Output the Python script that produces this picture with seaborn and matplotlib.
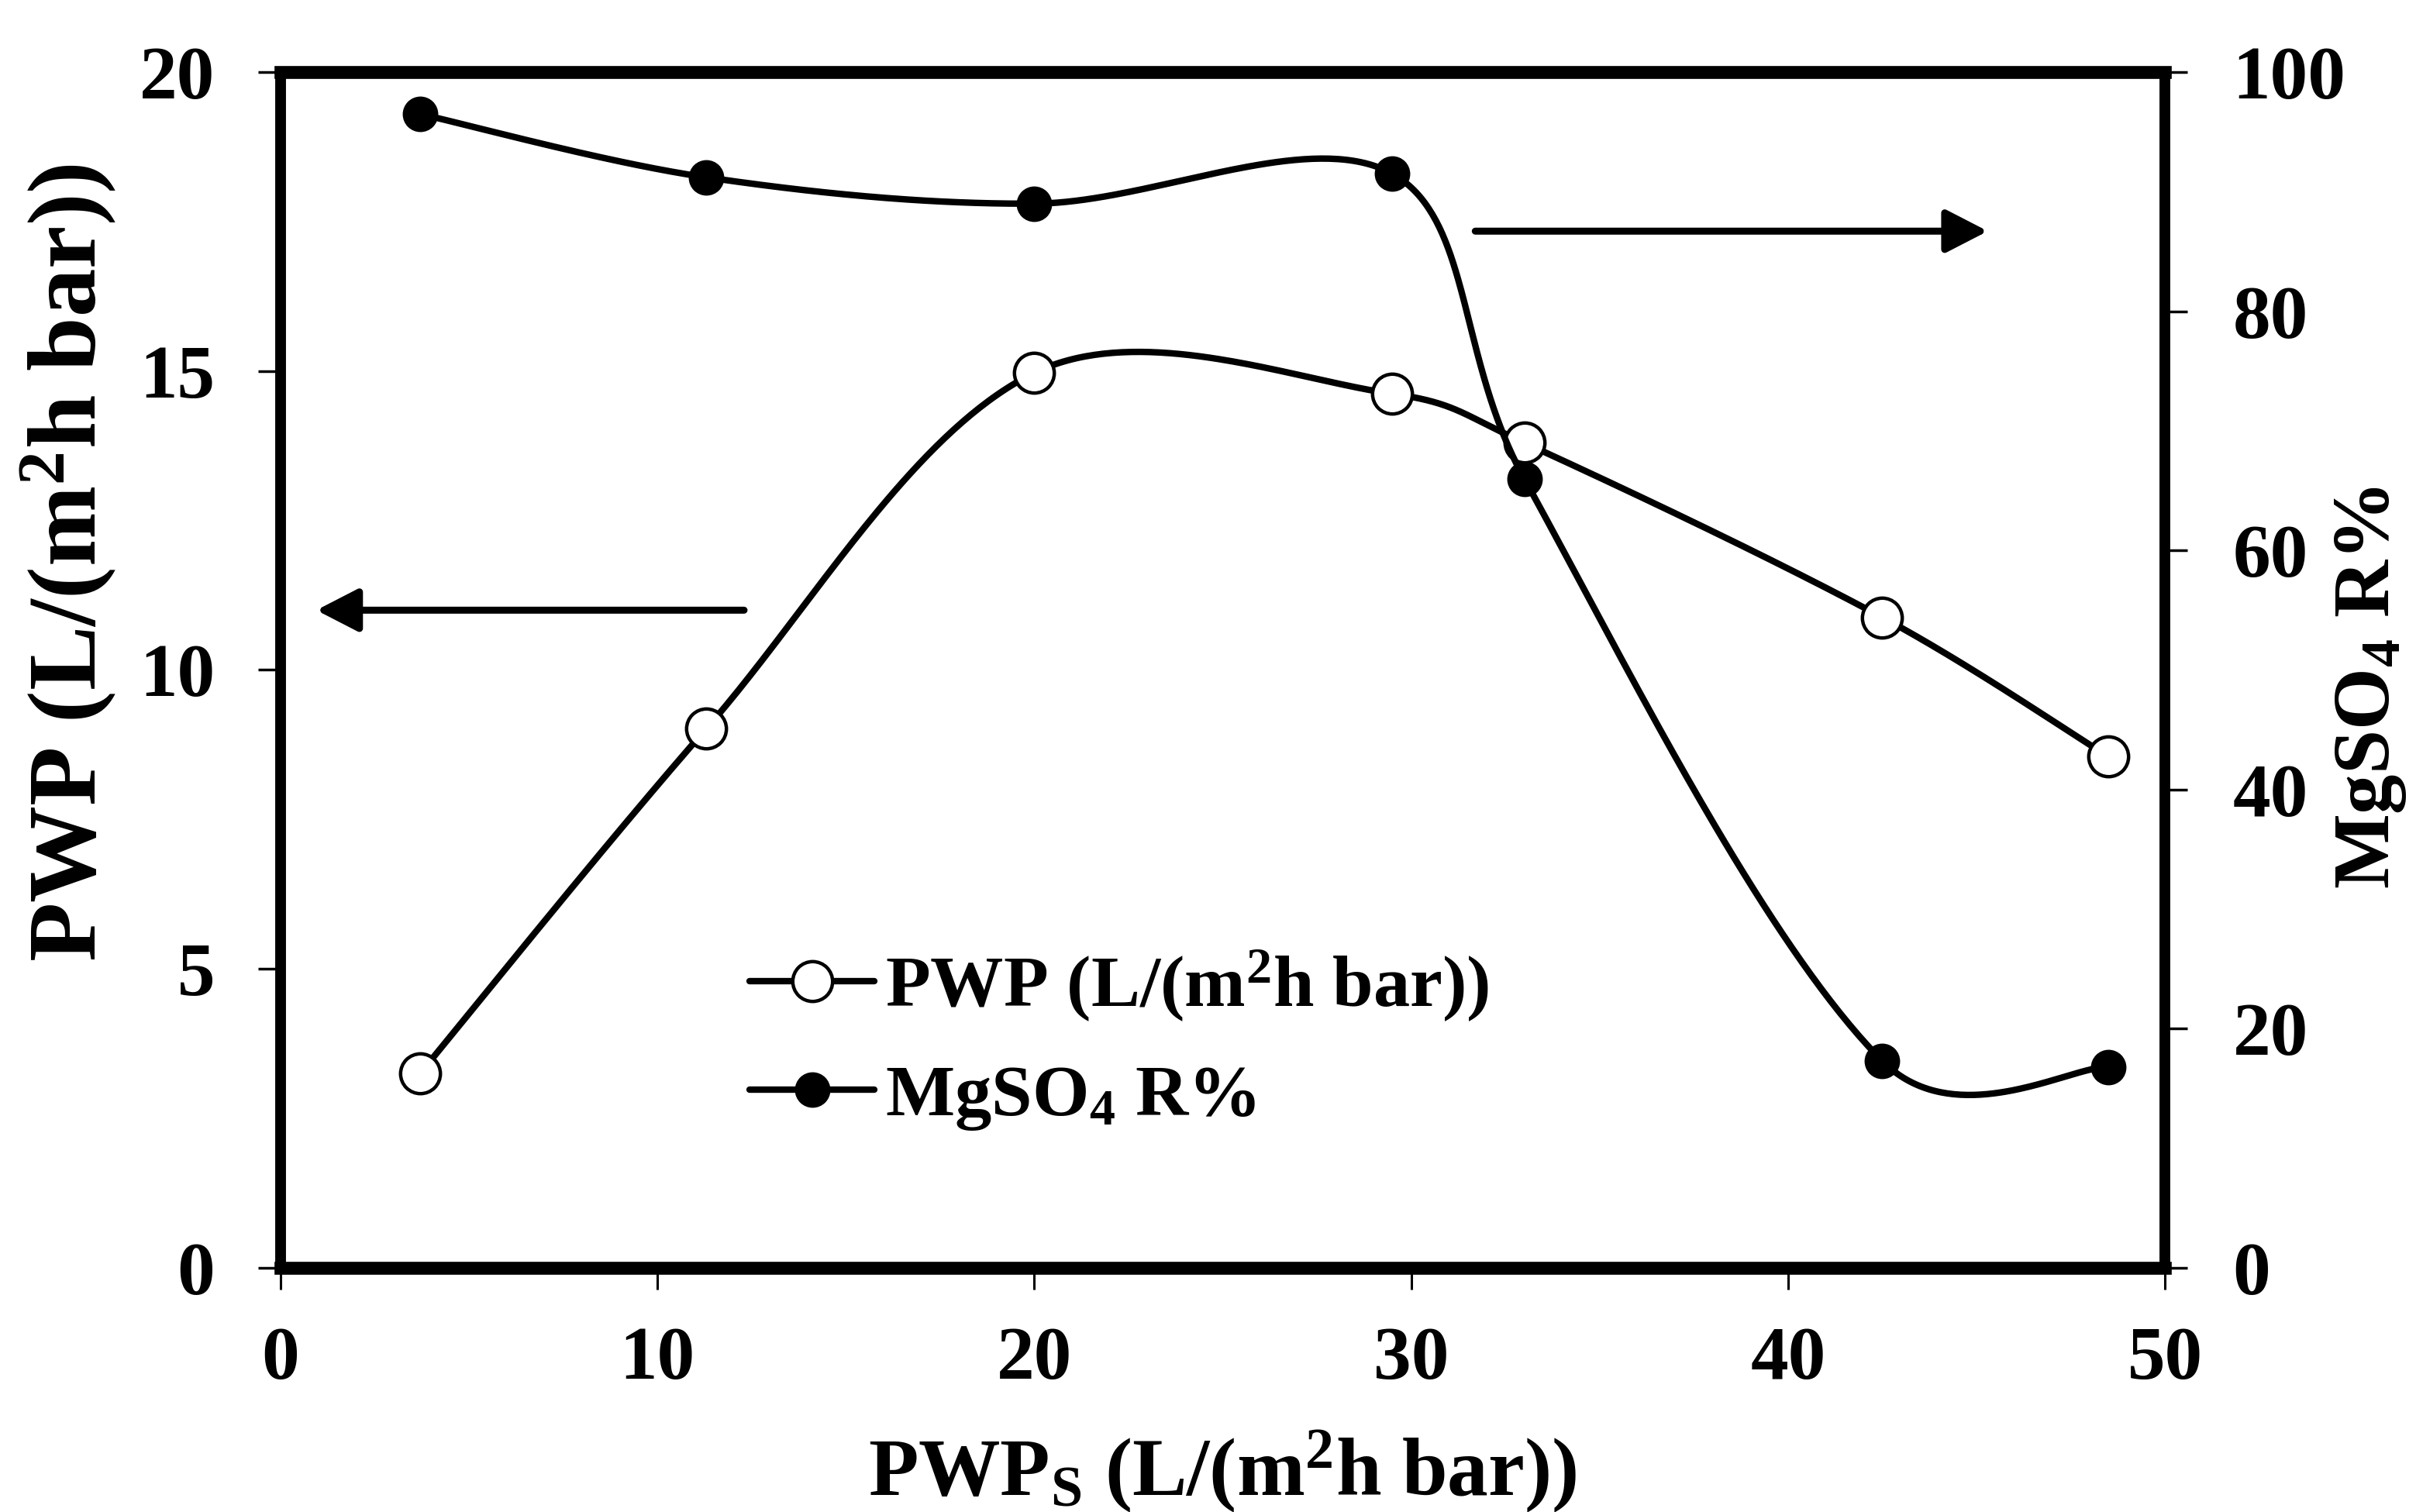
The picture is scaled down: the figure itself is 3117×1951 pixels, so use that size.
import numpy as np
import matplotlib
matplotlib.use("Agg")
import matplotlib.pyplot as plt
import seaborn as sns
from matplotlib.lines import Line2D
from matplotlib.patches import ArrowStyle

# ---------------- data ----------------
pwps_x = [3.7, 11.3, 20.0, 29.5, 33.0, 42.5, 48.5]
pwp_y = [3.25, 9.02, 14.97, 14.62, 13.80, 10.88, 8.55]
mgso4_r = [96.5, 91.2, 89.0, 91.5, 66.0, 17.3, 16.8]

x_ticks = [0, 10, 20, 30, 40, 50]
left_ticks = [0, 5, 10, 15, 20]
right_ticks = [0, 20, 40, 60, 80, 100]

x_label = r"PWP$_\mathrm{S}$ (L/(m$^\mathrm{2}$h bar))"
y_label = r"PWP (L/(m$^\mathrm{2}$h bar))"
y2_label = r"MgSO$_\mathrm{4}$ R%"
legend_labels = [r"PWP (L/(m$^\mathrm{2}$h bar))", r"MgSO$_\mathrm{4}$ R%"]

# annotation arrows: (x_from, x_to, y)
arrow_left = (12.3, 0.95, 11.0)      # left axis units
arrow_right = (31.7, 45.3, 86.7)     # right axis units

# ---------------- style ----------------
sns.set_style("ticks")
plt.rcParams["font.family"] = ["Liberation Serif", "DejaVu Serif"]
plt.rcParams["font.weight"] = "bold"
plt.rcParams["mathtext.fontset"] = "custom"
plt.rcParams["mathtext.rm"] = "Liberation Serif:bold"
plt.rcParams["mathtext.it"] = "Liberation Serif:italic:bold"
plt.rcParams["mathtext.bf"] = "Liberation Serif:bold"
for k in ["text.color", "axes.labelcolor", "xtick.color", "ytick.color", "axes.edgecolor"]:
    plt.rcParams[k] = "black"

# axes size in pixels (smoothing is done in screen space)
AX_W, AX_H = 2431.0, 1543.0


def excel_smooth(xs, ys, xspan, yspan, n=80):
    """Smoothed line through the points: cubic Bezier segments; tangents are a
    blend of Catmull-Rom and chord-length weighting (close to Excel's smoothing)."""
    sx, sy = AX_W / xspan, AX_H / yspan
    P = np.column_stack([np.asarray(xs, float) * sx, np.asarray(ys, float) * sy])
    m = len(P)
    t = np.linspace(0, 1, n)[:, None]
    parts = []
    for i in range(m - 1):
        p1, p2 = P[i], P[i + 1]
        L12 = np.linalg.norm(p2 - p1)
        if i > 0:
            p0 = P[i - 1]
            L01 = np.linalg.norm(p1 - p0)
            w = 0.5 * (1 / 6.0) + 0.5 * (L12 / (L01 + L12) / 3.0)
            c1 = p1 + (p2 - p0) * w
        else:
            c1 = p1 + (p2 - p1) / 6.0
        if i + 2 < m:
            p3 = P[i + 2]
            L23 = np.linalg.norm(p3 - p2)
            w = 0.5 * (1 / 6.0) + 0.5 * (L12 / (L12 + L23) / 3.0)
            c2 = p2 - (p3 - p1) * w
        else:
            c2 = p2 - (p2 - p1) / 6.0
        seg = ((1 - t) ** 3) * p1 + 3 * ((1 - t) ** 2) * t * c1 + 3 * (1 - t) * t ** 2 * c2 + t ** 3 * p2
        parts.append(seg if i == 0 else seg[1:])
    out = np.vstack(parts)
    out[:, 0] /= sx
    out[:, 1] /= sy
    return out


fig, ax = plt.subplots(figsize=(31.17, 19.51), dpi=100)
fig.patch.set_facecolor("white")
fig.subplots_adjust(left=0.1161, right=0.8961, bottom=0.1615, top=0.9523)
ax2 = ax.twinx()

LW = 6.0

# PWP (left axis)
c1 = excel_smooth(pwps_x, pwp_y, 50.0, 20.0)
sns.lineplot(x=c1[:, 0], y=c1[:, 1], ax=ax, sort=False, estimator=None,
             color="black", linewidth=LW, zorder=2)
sns.scatterplot(x=pwps_x, y=pwp_y, ax=ax, s=37 ** 2, color="white",
                edgecolor="black", linewidth=3.2, zorder=3)

# MgSO4 rejection (right axis)
c2 = excel_smooth(pwps_x, mgso4_r, 50.0, 100.0)
sns.lineplot(x=c2[:, 0], y=c2[:, 1], ax=ax2, sort=False, estimator=None,
             color="black", linewidth=LW, zorder=2)
sns.scatterplot(x=pwps_x, y=mgso4_r, ax=ax2, s=32 ** 2, color="black",
                edgecolor="black", linewidth=1, zorder=3)

# axes limits and ticks
ax.set_xlim(0, 50)
ax.set_ylim(0, 20)
ax2.set_ylim(0, 100)
ax.set_xticks(x_ticks)
ax.set_yticks(left_ticks)
ax2.set_yticks(right_ticks)
ax.set_xticklabels([str(v) for v in x_ticks])
ax.set_yticklabels([str(v) for v in left_ticks])
ax2.set_yticklabels([str(v) for v in right_ticks])

ax.tick_params(axis="x", direction="out", length=20, width=2.2, pad=34,
               labelsize=70, bottom=True, top=False, color="black", labelcolor="black")
ax.tick_params(axis="y", direction="out", length=21, width=2.5, pad=40,
               labelsize=70, left=True, right=False, color="black", labelcolor="black")
ax2.tick_params(axis="y", direction="out", length=21, width=2.5, pad=42,
                labelsize=70, right=True, left=False, color="black", labelcolor="black")

# spines
for s in ["left", "right", "top", "bottom"]:
    ax.spines[s].set_color("black")
    ax2.spines[s].set_color("black")
ax.spines["left"].set_linewidth(10)
ax.spines["top"].set_linewidth(12)
ax.spines["bottom"].set_linewidth(12)
ax.spines["right"].set_visible(False)
ax2.spines["right"].set_linewidth(10)
for s in ["left", "top", "bottom"]:
    ax2.spines[s].set_visible(False)

# labels
ax.set_xlabel(x_label, fontsize=76, fontweight="bold", color="black")
ax.xaxis.set_label_coords(0.5, -0.135)
ax.set_ylabel(y_label, fontsize=90, fontweight="bold", color="black")
ax.yaxis.label.set_verticalalignment("center")
ax.yaxis.set_label_coords(-0.1127, 0.59)
ax2.set_ylabel(y2_label, fontsize=74, fontweight="bold", rotation=90, color="black")
ax2.yaxis.label.set_verticalalignment("center")
ax2.yaxis.set_label_coords(1.109, 0.485)

# arrows
astyle = ArrowStyle("-|>", head_length=0.33, head_width=0.17)
ax.annotate("", xy=(arrow_left[1], arrow_left[2]), xytext=(arrow_left[0], arrow_left[2]),
            xycoords="data", textcoords="data",
            arrowprops=dict(arrowstyle=astyle, mutation_scale=100, lw=6.5,
                            color="black", shrinkA=0, shrinkB=0))
ax2.annotate("", xy=(arrow_right[1], arrow_right[2]), xytext=(arrow_right[0], arrow_right[2]),
             xycoords="data", textcoords="data",
             arrowprops=dict(arrowstyle=astyle, mutation_scale=100, lw=6.5,
                             color="black", shrinkA=0, shrinkB=0))

# legend
handles = [
    Line2D([], [], color="black", lw=LW, marker="o", ms=37, mfc="white", mec="black", mew=3.2),
    Line2D([], [], color="black", lw=LW, marker="o", ms=32, mfc="black", mec="black"),
]
leg = ax2.legend(handles, legend_labels, loc="center left", bbox_to_anchor=(0.249, 0.1905),
                 frameon=False, handlelength=1.7, handletextpad=0.15,
                 labelspacing=0.55, borderpad=0, borderaxespad=0,
                 prop={"weight": "bold", "size": 68})
for txt in leg.get_texts():
    txt.set_color("black")

fig.savefig("out.png", dpi=100, facecolor="white")
